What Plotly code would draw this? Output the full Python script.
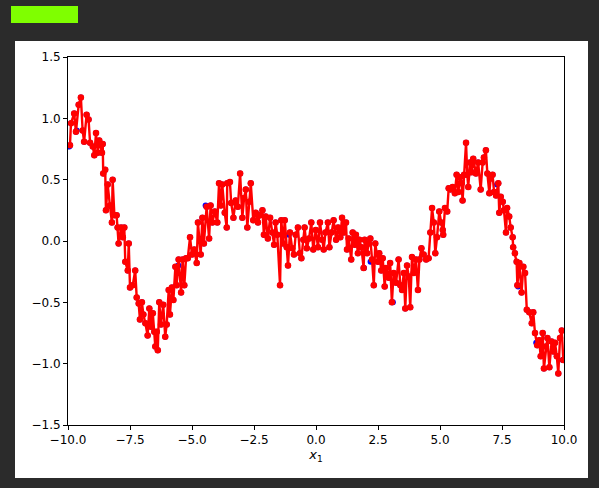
import plotly.graph_objects as go

# Red prediction series (sorted by x)
pred_x = [-9.92, -9.88, -9.75, -9.68, -9.57, -9.48, -9.41, -9.35, -9.25, -9.17, -9.11, -9.00, -8.94, -8.87,
          -8.80, -8.74, -8.63, -8.60, -8.58, -8.50, -8.47, -8.40, -8.31, -8.23, -8.20, -8.13, -8.04, -8.00,
          -7.96, -7.86, -7.79, -7.73, -7.69, -7.59, -7.55, -7.50, -7.39, -7.29, -7.23, -7.15, -7.10, -7.02,
          -6.96, -6.88, -6.79, -6.72, -6.65, -6.58, -6.52, -6.48, -6.42, -6.38, -6.32, -6.25, -6.16, -6.08,
          -6.02, -5.94, -5.89, -5.81, -5.75, -5.67, -5.62, -5.54, -5.44, -5.38, -5.31, -5.24, -5.17, -5.08,
          -5.00, -4.91, -4.81, -4.76, -4.65, -4.58, -4.52, -4.41, -4.31, -4.25, -4.18, -4.08, -3.98, -3.91,
          -3.84, -3.78, -3.68, -3.60, -3.58, -3.47, -3.42, -3.33, -3.24, -3.15, -3.06, -2.97, -2.90, -2.83,
          -2.77, -2.70, -2.63, -2.53, -2.43, -2.34, -2.26, -2.16, -2.10, -2.03, -1.94, -1.85, -1.76, -1.69,
          -1.63, -1.56, -1.45, -1.40, -1.32, -1.26, -1.18, -1.13, -1.05, -0.96, -0.89, -0.82, -0.73, -0.65,
          -0.59, -0.51, -0.46, -0.37, -0.28, -0.19, -0.11, -0.01, 0.08, 0.16, 0.25, 0.31, 0.38, 0.48,
          0.54, 0.62, 0.71, 0.81, 0.89, 0.98, 1.05, 1.12, 1.21, 1.25, 1.32, 1.42, 1.48, 1.56,
          1.61, 1.69, 1.75, 1.83, 1.92, 1.96, 2.06, 2.12, 2.19, 2.26, 2.33, 2.39, 2.50, 2.55,
          2.63, 2.69, 2.77, 2.82, 2.93, 2.99, 3.06, 3.13, 3.23, 3.33, 3.40, 3.47, 3.54, 3.60,
          3.67, 3.74, 3.80, 3.87, 3.94, 4.03, 4.11, 4.17, 4.25, 4.34, 4.44, 4.54, 4.61, 4.68,
          4.75, 4.81, 4.88, 4.97, 5.05, 5.11, 5.13, 5.20, 5.29, 5.35, 5.43, 5.51, 5.60, 5.67,
          5.74, 5.81, 5.87, 5.91, 5.97, 6.05, 6.10, 6.14, 6.21, 6.28, 6.34, 6.45, 6.54, 6.64,
          6.72, 6.77, 6.85, 6.91, 6.99, 7.04, 7.12, 7.18, 7.26, 7.35, 7.39, 7.45, 7.53, 7.58,
          7.66, 7.71, 7.79, 7.85, 7.93, 7.95, 8.02, 8.09, 8.12, 8.20, 8.29, 8.36, 8.43, 8.50,
          8.60, 8.70, 8.76, 8.83, 8.92, 9.00, 9.06, 9.14, 9.19, 9.27, 9.33, 9.41, 9.50, 9.57,
          9.64, 9.71, 9.77, 9.84, 9.91, 9.97]
pred_y = [0.78, 0.96, 1.04, 0.89, 1.11, 1.17, 0.90, 0.81, 1.03, 0.99, 0.80, 0.77, 0.70, 0.88,
          0.72, 0.82, 0.72, 0.79, 0.55, 0.58, 0.25, 0.46, 0.29, 0.15, 0.50, 0.21, 0.21, 0.11,
          -0.02, 0.11, 0.03, 0.11, -0.17, -0.24, -0.02, -0.38, -0.36, -0.24, -0.46, -0.51, -0.64, -0.50,
          -0.60, -0.67, -0.77, -0.55, -0.70, -0.59, -0.74, -0.86, -0.74, -0.89, -0.50, -0.68, -0.52, -0.78,
          -0.68, -0.40, -0.60, -0.38, -0.48, -0.21, -0.36, -0.15, -0.42, -0.15, -0.36, -0.14, -0.14, 0.03,
          -0.11, -0.07, -0.18, 0.15, -0.11, 0.19, -0.02, 0.28, 0.02, 0.29, 0.15, 0.24, 0.15, 0.47,
          0.29, 0.46, 0.23, 0.11, 0.47, 0.48, 0.31, 0.19, 0.33, 0.28, 0.55, 0.19, 0.35, 0.42,
          0.11, 0.32, 0.47, 0.17, 0.23, 0.15, 0.21, 0.25, 0.05, 0.20, 0.02, 0.19, 0.07, -0.03,
          0.15, 0.05, -0.36, 0.17, -0.02, 0.17, -0.05, -0.20, 0.07, -0.06, -0.11, 0.05, 0.11, -0.10,
          -0.14, 0.01, 0.11, -0.06, 0.02, 0.15, -0.07, 0.09, -0.05, 0.15, 0.01, -0.07, 0.07, 0.15,
          -0.05, 0.07, 0.17, 0.01, 0.11, 0.03, 0.19, 0.07, 0.15, -0.07, 0.02, -0.15, 0.07, -0.03,
          0.05, -0.10, 0.01, -0.05, -0.22, 0.01, -0.10, -0.02, 0.02, -0.15, -0.36, -0.02, -0.17, -0.10,
          -0.24, -0.14, -0.37, -0.22, -0.30, -0.18, -0.50, -0.26, -0.34, -0.15, -0.36, -0.40, -0.26, -0.55,
          -0.20, -0.29, -0.54, -0.13, -0.26, -0.15, -0.40, -0.15, -0.06, -0.11, -0.15, -0.14, 0.07, 0.27,
          0.15, -0.10, 0.03, 0.24, 0.15, 0.09, 0.05, 0.27, 0.24, 0.43, 0.42, 0.44, 0.39, 0.54,
          0.40, 0.52, 0.47, 0.33, 0.54, 0.80, 0.54, 0.44, 0.64, 0.56, 0.67, 0.55, 0.64, 0.42,
          0.64, 0.68, 0.74, 0.55, 0.39, 0.51, 0.54, 0.40, 0.37, 0.47, 0.23, 0.36, 0.32, 0.25,
          0.07, 0.27, 0.20, 0.11, 0.03, -0.05, -0.10, -0.17, -0.36, -0.18, -0.42, -0.21, -0.26, -0.56,
          -0.58, -0.67, -0.58, -0.75, -0.85, -0.81, -0.94, -0.75, -1.04, -0.86, -0.79, -1.03, -0.82, -0.90,
          -0.83, -0.94, -1.08, -0.79, -0.73, -0.97]

# Blue sample points visible beside the prediction
extra_x = [-9.95, -9.65, -4.45, -5.55, 1.93, 3.10, 7.30, 8.15, 8.88, 9.95, -1.10, 2.20]
extra_y = [0.77, 0.90, 0.29, -0.20, -0.22, -0.50, 0.46, -0.37, -0.83, -0.97, 0.05, -0.17]

blue_x = pred_x + extra_x
blue_y = pred_y + extra_y

x_ticks = [-10, -7.5, -5, -2.5, 0, 2.5, 5, 7.5, 10]
y_ticks = [-1.5, -1.0, -0.5, 0.0, 0.5, 1.0, 1.5]


def fmt(v):
    s = f"{v:.1f}"
    return s.replace("-", "\u2212")


fig = go.Figure()
fig.add_trace(go.Scatter(x=blue_x, y=blue_y, mode="markers",
                         marker=dict(color="blue", size=6), showlegend=False, hoverinfo="skip"))
fig.add_trace(go.Scatter(x=pred_x, y=pred_y, mode="lines+markers",
                         line=dict(color="red", width=2.4),
                         marker=dict(color="red", size=6.5), showlegend=False, hoverinfo="skip"))

W, H = 599, 488
L, R, T, B = 68, 564, 57, 425
pw, ph = R - L, B - T


def px(xp):
    return (xp - L) / pw


def py(yp):
    return (B - yp) / ph


fig.add_shape(type="rect", xref="paper", yref="paper", x0=px(15), x1=px(588), y0=py(478), y1=py(41),
              fillcolor="white", line=dict(width=0), layer="below")
fig.add_shape(type="rect", xref="paper", yref="paper", x0=px(11), x1=px(78), y0=py(23), y1=py(6),
              fillcolor="#7fff00", line=dict(width=0), layer="below")

axis_common = dict(showgrid=False, zeroline=False, showline=True, linecolor="black", linewidth=1,
                   mirror=True, ticks="outside", ticklen=4, tickcolor="black", tickwidth=1,
                   tickfont=dict(family="DejaVu Sans", size=12, color="black"))
fig.update_xaxes(range=[-10, 10], tickvals=x_ticks, ticktext=[fmt(v) for v in x_ticks],
                 title=dict(text="<i>x</i><sub>1</sub>", font=dict(family="DejaVu Sans", size=13, color="black"),
                            standoff=3),
                 **axis_common)
fig.update_yaxes(range=[-1.5, 1.5], tickvals=y_ticks, ticktext=[fmt(v) for v in y_ticks], **axis_common)

fig.update_layout(width=W, height=H, margin=dict(l=L, r=W - R, t=T, b=H - B),
                  paper_bgcolor="#2b2b2b", plot_bgcolor="white", hovermode=False)
fig.write_html("out.html", config={"displayModeBar": False},
               post_script="document.body.style.margin='0';document.body.style.background='#2b2b2b';")
